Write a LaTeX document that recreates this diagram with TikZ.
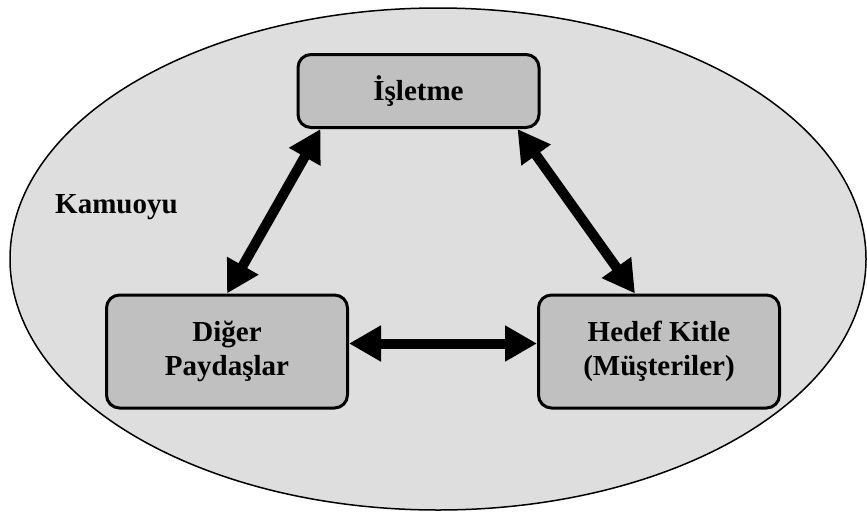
\documentclass[tikz,border=0pt]{standalone}
\usepackage{fontspec}
\setmainfont{Liberation Serif}
\usetikzlibrary{arrows.meta,calc}
\definecolor{bgfill}{HTML}{DEDEDE}
\definecolor{boxfill}{HTML}{C0C0C0}
\begin{document}
\begin{tikzpicture}[x=1pt,y=-1pt,
  box/.style={draw=black, line width=3pt, rounded corners=13pt, fill=boxfill,
    inner sep=0pt, minimum width=241pt, align=center,
    font=\fontsize{29}{34}\selectfont\bfseries},
  lbl/.style={font=\fontsize{29}{34}\selectfont\bfseries, inner sep=0pt},
  link/.style={line width=10pt,
    {Triangle[length=32pt,width=34pt]}-{Triangle[length=32pt,width=34pt]}}]
\useasboundingbox (0,0) rectangle (867,512);
\filldraw[fill=bgfill, draw=black, line width=1.5pt] (438,259) ellipse [x radius=428pt, y radius=251pt];
\node[lbl, anchor=base west] (kam) at (55,213) {Kamuoyu};
\node[box, minimum height=73pt] (isl) at (418.5,91) {İşletme};
\node[box, minimum height=113pt] (dig) at (227,351.5) {Diğer\\Paydaşlar};
\node[box, minimum height=113pt] (hed) at (659,351.5) {Hedef Kitle\\(Müşteriler)};
\draw[link] ($(isl.south west)+(24,0)$) -- (dig.north);
\draw[link] ($(isl.south east)+(-23,0)$) -- ($(hed.north)+(-24,0)$);
\draw[link] ($(dig.east)+(0,-8)$) -- ($(hed.west)+(0,-8)$);
\end{tikzpicture}
\end{document}
